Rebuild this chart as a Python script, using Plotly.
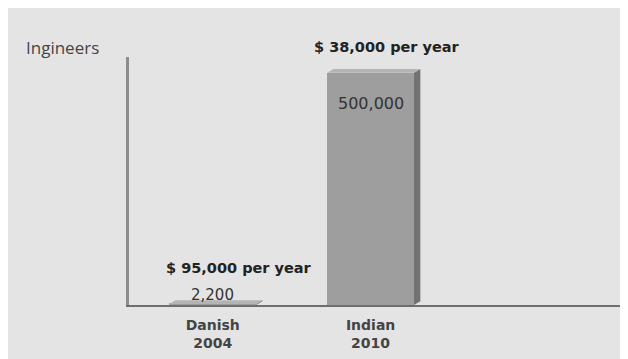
import plotly.graph_objects as go

categories = ["Danish<br>2004", "Indian<br>2010"]
engineers = [2200, 500000]
value_labels = ["2,200", "500,000"]
salary_labels = ["$ 95,000 per year", "$ 38,000 per year"]
y_title = "Ingineers"

xs = list(range(len(categories)))
bar_w = 0.55
dx, dy = 0.04, 8000
FONT = "DejaVu Sans"

fig = go.Figure()
fig.add_trace(go.Bar(x=xs, y=engineers, width=bar_w, marker=dict(color="#9e9e9e", line=dict(width=0)),
                     hoverinfo="skip", showlegend=False))

for i, v in zip(xs, engineers):
    x0, x1 = i - bar_w / 2, i + bar_w / 2
    fig.add_trace(go.Scatter(x=[x1, x1 + dx, x1 + dx, x1, x1], y=[0, dy, v + dy, v, 0], fill="toself",
                             fillcolor="#727272", line=dict(width=0), mode="lines", hoverinfo="skip", showlegend=False))
    fig.add_trace(go.Scatter(x=[x0, x0 + dx, x1 + dx, x1, x0], y=[v, v + dy, v + dy, v, v], fill="toself",
                             fillcolor="#b4b4b4", line=dict(width=0), mode="lines", hoverinfo="skip", showlegend=False))

fig.add_annotation(x=xs[0], y=engineers[0], text=value_labels[0], showarrow=False, yanchor="middle", yshift=9,
                   font=dict(family=FONT, size=15, color="#333333"))
fig.add_annotation(x=xs[1], y=engineers[1], text=value_labels[1], showarrow=False, yanchor="middle", yshift=-31,
                   font=dict(family=FONT, size=16, color="#333333"))
fig.add_annotation(x=xs[0], y=engineers[0], text="<b>" + salary_labels[0] + "</b>", showarrow=False,
                   yanchor="middle", yshift=36, xshift=26, font=dict(family=FONT, size=14.5, color="#222222"))
fig.add_annotation(x=xs[1], y=engineers[1], text="<b>" + salary_labels[1] + "</b>", showarrow=False,
                   yanchor="middle", yshift=26, xshift=16, font=dict(family=FONT, size=14.5, color="#222222"))
fig.add_annotation(x=-0.21, xref="paper", y=1.04, yref="paper", text=y_title, showarrow=False,
                   xanchor="left", yanchor="middle", font=dict(family="Open Sans", size=17, color="#444444"))

fig.update_layout(
    width=620, height=351,
    margin=dict(l=121, r=0, t=49, b=54),
    paper_bgcolor="#e4e4e4", plot_bgcolor="#e4e4e4",
    bargap=0, showlegend=False,
    xaxis=dict(range=[-0.53, 2.63], tickvals=xs, ticktext=["<b>" + c + "</b>" for c in categories],
               showgrid=False, zeroline=False, showline=True, linecolor="#6e6e6e", linewidth=2,
               ticks="", ticklabelstandoff=6,
               tickfont=dict(family=FONT, size=14, color="#444444"), fixedrange=True),
    yaxis=dict(range=[0, 534000], showgrid=False, zeroline=False, showline=True, linecolor="#8c8c8c",
               linewidth=3, showticklabels=False, ticks="", fixedrange=True),
)

fig.write_html("out.html")
